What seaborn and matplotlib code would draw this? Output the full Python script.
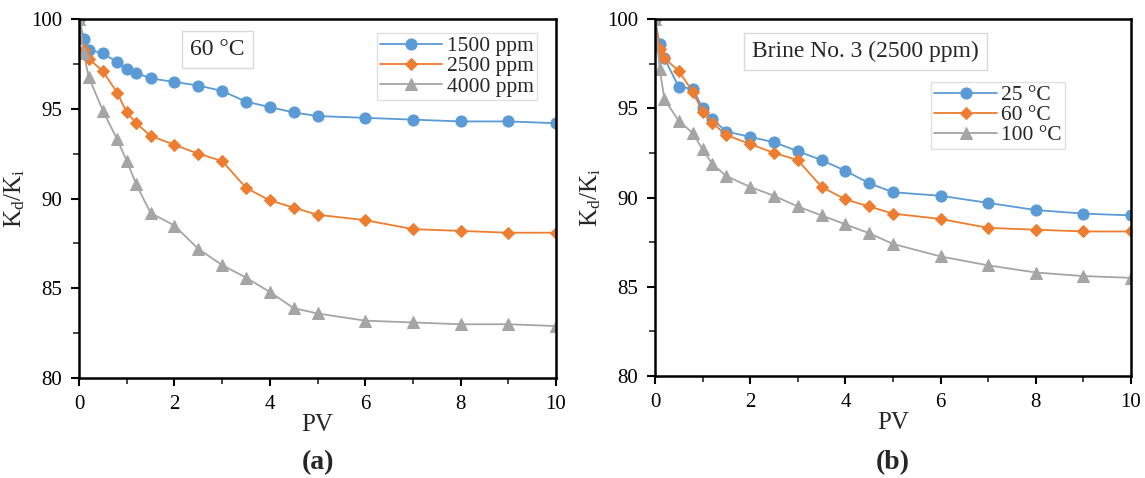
import numpy as np
import pandas as pd
import matplotlib
matplotlib.use('Agg')
import matplotlib.pyplot as plt
from matplotlib.ticker import MultipleLocator
import seaborn as sns

# data
pv = [0, 0.1, 0.2, 0.5, 0.8, 1.0, 1.2, 1.5, 2, 2.5, 3, 3.5, 4, 4.5, 5, 6, 7, 8, 9, 10]

# (a) 60 C, different concentrations
a_1500 = [100, 98.9, 98.3, 98.1, 97.6, 97.2, 97.0, 96.7, 96.5, 96.3, 96.0, 95.4, 95.1, 94.8, 94.6, 94.5, 94.4, 94.3, 94.3, 94.2]
a_2500 = [100, 98.3, 97.8, 97.1, 95.9, 94.8, 94.2, 93.5, 93.0, 92.5, 92.1, 90.6, 89.9, 89.5, 89.1, 88.8, 88.3, 88.2, 88.1, 88.1]
a_4000 = [100, 98.1, 96.8, 94.9, 93.3, 92.1, 90.8, 89.2, 88.5, 87.2, 86.3, 85.6, 84.8, 83.9, 83.6, 83.2, 83.1, 83.0, 83.0, 82.9]

# (b) brine no. 3, different temperatures
b_25 = [100, 98.6, 97.8, 96.2, 96.1, 95.0, 94.4, 93.7, 93.4, 93.1, 92.6, 92.1, 91.5, 90.8, 90.3, 90.1, 89.7, 89.3, 89.1, 89.0]
b_60 = [100, 98.3, 97.8, 97.1, 95.9, 94.8, 94.2, 93.5, 93.0, 92.5, 92.1, 90.6, 89.9, 89.5, 89.1, 88.8, 88.3, 88.2, 88.1, 88.1]
b_100 = [100, 97.2, 95.5, 94.3, 93.6, 92.7, 91.9, 91.2, 90.6, 90.1, 89.5, 89.0, 88.5, 88.0, 87.4, 86.7, 86.2, 85.8, 85.6, 85.5]

labels_a = ['1500 ppm', '2500 ppm', '4000 ppm']
labels_b = ['25 °C', '60 °C', '100 °C']

sns.set_style('white')
plt.rcParams['font.family'] = ['Liberation Serif', 'DejaVu Serif']
plt.rcParams['mathtext.fontset'] = 'custom'
plt.rcParams['mathtext.rm'] = 'Liberation Serif'
plt.rcParams['mathtext.it'] = 'Liberation Serif:italic'

colors = ['#5B9BD5', '#ED7D31', '#A5A5A5']
markers = ['o', 'D', '^']
msizes = [8, 6, 8]


def long_df(series, names):
    rows = []
    for s, n in zip(series, names):
        rows.append(pd.DataFrame({'PV': pv, 'K': s, 'series': n}))
    return pd.concat(rows, ignore_index=True)


def panel(ax, df, names):
    for i, n in enumerate(names):
        sns.lineplot(data=df[df['series'] == n], x='PV', y='K', ax=ax,
                     color=colors[i], marker=markers[i], markersize=msizes[i],
                     markeredgecolor=colors[i], linewidth=1.3, label=n)
    ax.set_xlim(0, 10)
    ax.set_ylim(80, 100)
    ax.xaxis.set_major_locator(MultipleLocator(2))
    ax.xaxis.set_minor_locator(MultipleLocator(1))
    ax.yaxis.set_major_locator(MultipleLocator(5))
    ax.yaxis.set_minor_locator(MultipleLocator(2.5))
    ax.tick_params(which='major', direction='out', length=6, width=1.5,
                   labelsize=15, bottom=True, left=True, colors='black', pad=6)
    ax.tick_params(which='minor', direction='out', length=4, width=1.2,
                   bottom=True, left=True)
    for sp in ax.spines.values():
        sp.set_color('black')
        sp.set_linewidth(1.8)
    ax.set_xlabel('PV', fontsize=18, labelpad=0)
    ax.set_ylabel(r'K$_\mathrm{d}$/K$_\mathrm{i}$', fontsize=18, labelpad=3)


fig = plt.figure(figsize=(11.45, 4.78), dpi=100)
ax1 = fig.add_axes([0.069, 0.209, 0.4166, 0.751])
ax2 = fig.add_axes([0.572, 0.2134, 0.4158, 0.7466])

panel(ax1, long_df([a_1500, a_2500, a_4000], labels_a), labels_a)
panel(ax2, long_df([b_25, b_60, b_100], labels_b), labels_b)

leg_kw = dict(fontsize=15.5, frameon=True, fancybox=False, edgecolor='#D9D9D9',
              handlelength=2.9, handletextpad=0.2, borderpad=0.15,
              labelspacing=0.0, borderaxespad=0)
leg1 = ax1.legend(loc='upper right', bbox_to_anchor=(0.96, 0.961), **leg_kw)
leg1.get_frame().set_linewidth(1)
leg2 = ax2.legend(loc='upper left', bbox_to_anchor=(0.58, 0.824), **leg_kw)
leg2.get_frame().set_linewidth(1)

box = dict(boxstyle='square,pad=0.35', facecolor='white', edgecolor='#D9D9D9', linewidth=1)
ax1.text(0.29, 0.915, '60 °C', transform=ax1.transAxes, fontsize=17,
         ha='center', va='center', bbox=box)
ax2.text(0.442, 0.909, 'Brine No. 3 (2500 ppm)', transform=ax2.transAxes, fontsize=17,
         ha='center', va='center', bbox=box)

fig.text(0.2773, 0.033, '(a)', fontsize=20, fontweight='bold', ha='center', va='center')
fig.text(0.7799, 0.033, '(b)', fontsize=20, fontweight='bold', ha='center', va='center')

fig.savefig('out.png', dpi=100)
